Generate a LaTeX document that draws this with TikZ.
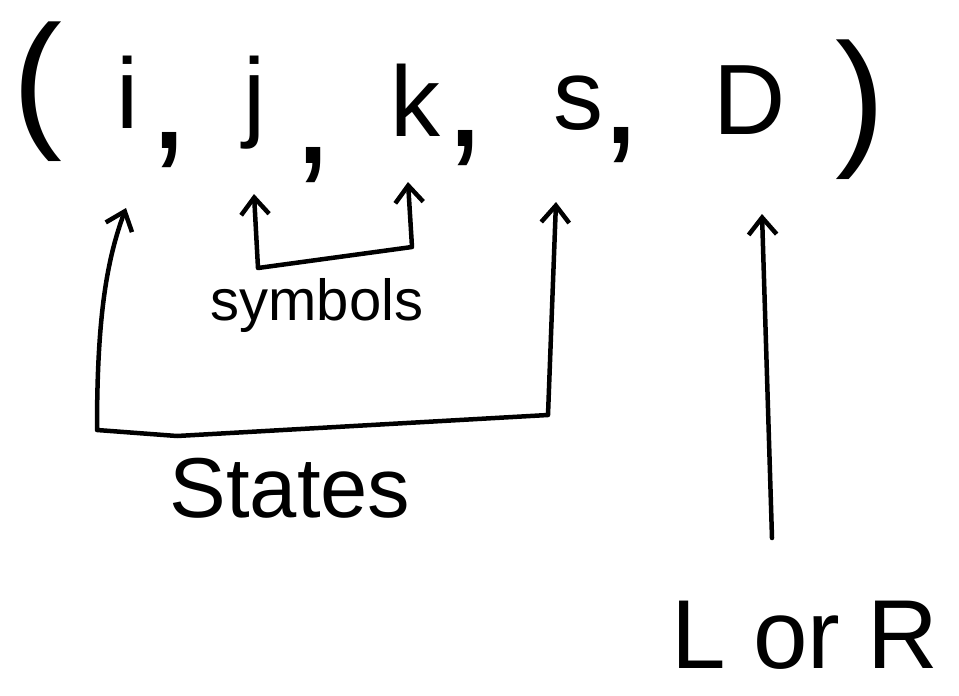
\documentclass[tikz,border=0pt]{standalone}
\usepackage{fontspec}
\setmainfont{Liberation Sans}
\usetikzlibrary{arrows.meta}
\begin{document}
\begin{tikzpicture}[x=1pt,y=-1pt,
  pen/.style={line width=4.5pt, line cap=round, line join=round},
  barb/.tip={Straight Barb[length=17pt,width=28pt]},
  glyph/.style={inner sep=0pt, font=\fontsize{100}{100}\selectfont},
  paren/.style={inner sep=0pt, font=\fontsize{150}{150}\selectfont},
  comma/.style={inner sep=0pt, font=\fontsize{150}{150}\selectfont},
  lbl/.style={inner sep=0pt}]
\useasboundingbox (0,0) rectangle (959,696);
% tuple
\node[paren] (lp) at (37,92) {(};
\node[glyph] (ni) at (128,92) {i};
\node[comma] (c1) at (169,150) {,};
\node[glyph] (nj) at (255,103) {j};
\node[comma] (c2) at (313,165) {,};
\node[glyph] (nk) at (415,100) {k};
\node[comma] (c3) at (465,148) {,};
\node[glyph] (ns) at (578,103) {s};
\node[comma] (c4) at (621,145) {,};
\node[glyph] (nD) at (750,100) {D};
\node[paren] (rp) at (860,110) {)};
% labels
\node[lbl, font=\fontsize{58}{58}\selectfont] (sym) at (317,306) {symbols};
\node[lbl, font=\fontsize{85}{85}\selectfont] (st) at (290,488) {States};
\node[lbl, font=\fontsize{98}{98}\selectfont] (lr) at (805,635) {L or R};
% connector points
\coordinate (stLtip) at (126,208);
\coordinate (stL) at (97,430);
\coordinate (stR) at (548,415);
\coordinate (stRtip) at (556,202);
\coordinate (syLtip) at (254,194);
\coordinate (syL) at (258,268);
\coordinate (syR) at (412,247);
\coordinate (syRtip) at (408,182);
\coordinate (dtip) at (762,214);
\coordinate (dbot) at (772,538);
% states bracket
\draw[pen, barb-barb] (stLtip) .. controls (106,262) and (97,320) .. (stL)
   -- (177,436) -- (stR) -- (stRtip);
% symbols bracket
\draw[pen, barb-barb] (syLtip) -- (syL) -- (syR) -- (syRtip);
% direction arrow
\draw[pen, -barb] (dbot) -- (dtip);
\end{tikzpicture}
\end{document}
